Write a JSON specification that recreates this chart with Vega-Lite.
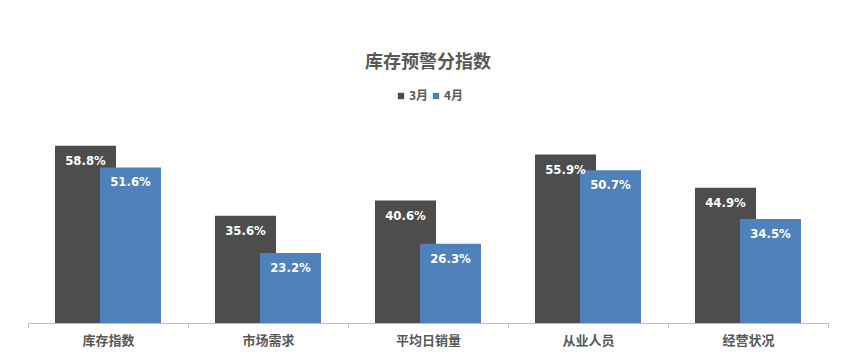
{
  "$schema": "https://vega.github.io/schema/vega-lite/v6.json",
  "width": 800,
  "height": 211,
  "autosize": {"type": "none"},
  "padding": {"left": 28, "top": 112, "right": 28, "bottom": 34},
  "background": "#ffffff",
  "config": {"view": {"stroke": null}, "font": "Noto Sans CJK SC"},
  "title": {
    "text": "库存预警分指数",
    "fontSize": 18,
    "fontWeight": "bold",
    "color": "#595959",
    "anchor": "middle",
    "offset": 18
  },
  "data": {
    "values": [
      {"cat": "库存指数", "month": "3月", "value": 0.588},
      {"cat": "库存指数", "month": "4月", "value": 0.516},
      {"cat": "市场需求", "month": "3月", "value": 0.356},
      {"cat": "市场需求", "month": "4月", "value": 0.232},
      {"cat": "平均日销量", "month": "3月", "value": 0.406},
      {"cat": "平均日销量", "month": "4月", "value": 0.263},
      {"cat": "从业人员", "month": "3月", "value": 0.559},
      {"cat": "从业人员", "month": "4月", "value": 0.507},
      {"cat": "经营状况", "month": "3月", "value": 0.449},
      {"cat": "经营状况", "month": "4月", "value": 0.345}
    ]
  },
  "encoding": {
    "x": {
      "field": "cat",
      "type": "nominal",
      "sort": null,
      "scale": {"paddingInner": 0, "paddingOuter": 0},
      "axis": {
        "title": null,
        "labelAngle": 0,
        "domainColor": "#bfbfbf",
        "domainWidth": 1,
        "ticks": true,
        "tickBand": "extent",
        "tickSize": 5,
        "tickColor": "#bfbfbf",
        "labelPadding": 6,
        "labelFontSize": 13,
        "labelFontWeight": "bold",
        "labelColor": "#595959",
        "labelFont": "Noto Sans CJK SC"
      }
    },
    "y": {
      "field": "value",
      "type": "quantitative",
      "scale": {"domain": [0, 0.7]},
      "axis": null
    }
  },
  "layer": [
    {
      "transform": [{"filter": "datum.month === '3月'"}],
      "mark": {"type": "bar", "width": 61, "xOffset": -22.5},
      "encoding": {
        "color": {
          "field": "month",
          "type": "nominal",
          "scale": {"domain": ["3月", "4月"], "range": ["#4d4d4d", "#4f81bd"]},
          "legend": {
            "title": null,
            "orient": "none",
            "legendX": 367,
            "legendY": -22,
            "direction": "horizontal",
            "symbolType": "square",
            "symbolSize": 40,
            "symbolStrokeWidth": 0,
            "labelFontSize": 12,
            "labelFontWeight": "bold",
            "labelColor": "#595959",
            "columnPadding": 1,
            "labelOffset": 2
          }
        }
      }
    },
    {
      "transform": [{"filter": "datum.month === '4月'"}],
      "mark": {"type": "bar", "width": 61, "xOffset": 22.5},
      "encoding": {
        "color": {"field": "month", "type": "nominal"}
      }
    },
    {
      "transform": [{"filter": "datum.month === '3月'"}],
      "mark": {"type": "text", "xOffset": -22.5, "dy": 15, "baseline": "middle", "align": "center", "color": "#ffffff", "font": "'DejaVu Sans Condensed', 'Liberation Sans', sans-serif", "fontWeight": "bold", "fontSize": 13},
      "encoding": {"text": {"field": "value", "type": "quantitative", "format": ".1%"}}
    },
    {
      "transform": [{"filter": "datum.month === '4月'"}],
      "mark": {"type": "text", "xOffset": 22.5, "dy": 15, "baseline": "middle", "align": "center", "color": "#ffffff", "font": "'DejaVu Sans Condensed', 'Liberation Sans', sans-serif", "fontWeight": "bold", "fontSize": 13},
      "encoding": {"text": {"field": "value", "type": "quantitative", "format": ".1%"}}
    }
  ]
}
